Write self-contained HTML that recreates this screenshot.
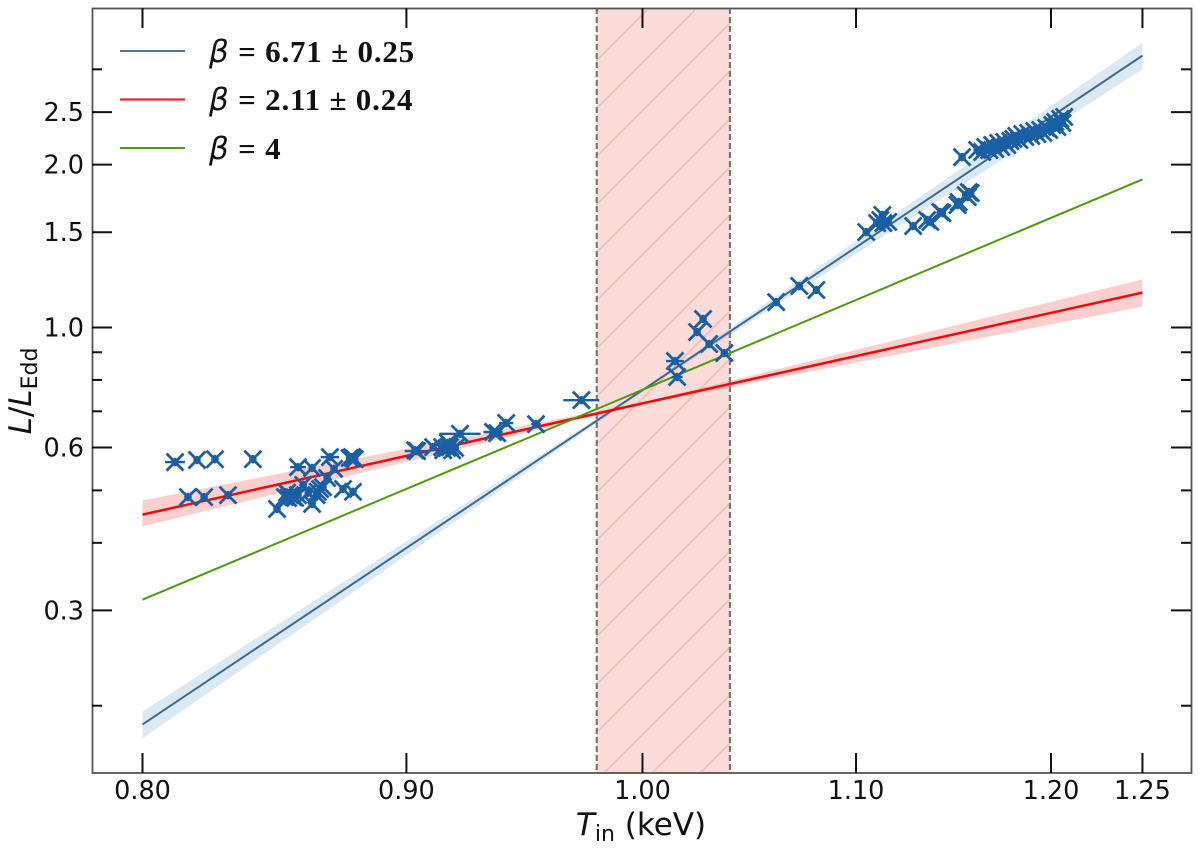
<!DOCTYPE html>
<html>
<head>
<meta charset="utf-8">
<title>L/LEdd vs Tin</title>
<style>
html,body{margin:0;padding:0;background:#fff;width:1200px;height:850px;overflow:hidden}
svg{display:block}
.tick-label{font-family:"DejaVu Sans",sans-serif;font-size:25.5px;fill:#111}
.axis-title{font-family:"DejaVu Sans",sans-serif;font-size:31px;fill:#111}
.legend-text{font-family:"Liberation Serif",serif;font-size:31px;font-weight:bold;fill:#111;letter-spacing:.8px}
.legend-beta{font-family:"DejaVu Sans",sans-serif;font-style:italic;font-weight:normal;font-size:31px}
</style>
</head>
<body>
<svg id="chart" width="1200" height="850" viewBox="0 0 1200 850" xmlns="http://www.w3.org/2000/svg">
  <defs>
    <clipPath id="span-clip"><rect x="596" y="8" width="135" height="765"/></clipPath>
  </defs>
  <rect x="0" y="0" width="1200" height="850" fill="#fff"/>
  <g id="span-layer"></g>
  <g id="band-layer"></g>
  <g id="line-layer"></g>
  <g id="point-layer"></g>
  <rect x="92.5" y="8.5" width="1099" height="764.5" fill="none" stroke="#555" stroke-width="1.8"/>
  <g id="tick-layer"></g>

  <text class="axis-title" x="641" y="835" text-anchor="middle"><tspan font-style="italic">T</tspan><tspan font-size="22" dy="6">in</tspan><tspan dy="-6"> (keV)</tspan></text>
  <text class="axis-title" transform="translate(31,391) rotate(-90)" text-anchor="middle"><tspan font-style="italic">L</tspan>/<tspan font-style="italic">L</tspan><tspan font-size="22" dy="6">Edd</tspan></text>

  <g>
    <line x1="120" y1="51" x2="185" y2="51" stroke="#4a7699" stroke-width="2"/>
    <text class="legend-text" x="209" y="62"><tspan class="legend-beta">β</tspan> = 6.71 ± 0.25</text>
    <line x1="120" y1="99.5" x2="185" y2="99.5" stroke="#f5222d" stroke-width="2.2"/>
    <text class="legend-text" x="209" y="110"><tspan class="legend-beta">β</tspan> = 2.11 ± 0.24</text>
    <line x1="120" y1="148" x2="185" y2="148" stroke="#4f9a0c" stroke-width="2"/>
    <text class="legend-text" x="209" y="159"><tspan class="legend-beta">β</tspan> = 4</text>
  </g>
</svg>
<script>
// ---- chart data ----
const xTickValues = [0.80, 0.90, 1.00, 1.10, 1.20, 1.25];
const xTickLabels = ["0.80", "0.90", "1.00", "1.10", "1.20", "1.25"];
const yMajorValues = [2.5, 2.0, 1.5, 1.0, 0.6, 0.3];
const yMajorLabels = ["2.5", "2.0", "1.5", "1.0", "0.6", "0.3"];
const yMinorValues = [3.0, 0.9, 0.8, 0.7, 0.5, 0.4, 0.2];

const fitTemps = [0.80, 1.00, 1.25];
const blueFit = [0.1847, 0.766, 3.18];
const blueLower = [0.174, 0.762, 3.00];
const blueUpper = [0.195, 0.770, 3.36];
const redFit = [0.451, 0.724, 1.16];
const redLower = [0.429, 0.721, 1.093];
const redUpper = [0.479, 0.727, 1.227];
const greenFit = [0.314, 0.767, 1.878];

const regionTemps = [0.9798, 1.0398];

const pointTemps = [
  0.8117,0.8197,0.8263,0.8404,0.8164,0.8223,0.8311,
  0.8575,0.8629,0.8698,0.8714,0.8687,0.8784,0.8788,0.8795,0.8775,0.8749,0.8788,
  0.8495,0.8533,0.8544,0.8556,0.8525,0.8537,0.8564,0.8595,0.8575,0.8629,0.8651,0.8646,0.8671,0.8660,0.8614,
  0.9043,0.9035,0.9108,0.9145,0.9149,0.9165,0.9177,0.9186,0.9198,0.9169,0.9218,0.9355,0.9372,0.9410,0.9536,0.9731,
  1.0146,1.0156,1.0247,1.0274,1.0302,1.0372,1.0615,1.0725,1.0807,
  1.1050,1.1120,1.1130,1.1135,1.1159,1.1104,1.1284,1.1355,1.1371,1.1422,1.1432,1.1510,1.1516,1.1552,1.1568,1.1578,1.1563,
  1.1533,1.1611,1.1637,1.1653,1.1674,1.1689,1.1705,1.1721,1.1737,1.1752,1.1768,1.1784,1.1800,1.1816,1.1832,1.1847,
  1.1863,1.1879,1.1895,1.1911,1.1927,1.1943,1.1959,1.1975,1.1991,1.2007,1.2023,1.2034,1.2050,1.2061,1.2071
];
const pointLums = [
  0.564,0.569,0.571,0.571,0.486,0.486,0.490,
  0.552,0.550,0.576,0.548,0.527,0.576,0.574,0.571,0.574,0.503,0.497,
  0.462,0.495,0.490,0.486,0.486,0.484,0.484,0.512,0.490,0.472,0.497,0.490,0.507,0.503,0.495,
  0.591,0.593,0.601,0.601,0.593,0.599,0.601,0.593,0.599,0.612,0.636,0.641,0.638,0.666,0.663,0.734,
  0.867,0.810,0.981,1.037,0.932,0.897,1.114,1.193,1.173,
  1.501,1.580,1.614,1.559,1.567,1.559,1.540,1.580,1.567,1.634,1.627,1.684,1.705,1.756,1.779,1.772,1.742,
  2.065,2.128,2.110,2.156,2.128,2.174,2.137,2.193,2.156,2.202,2.174,2.211,2.230,2.259,2.221,2.278,
  2.249,2.288,2.259,2.308,2.278,2.317,2.288,2.337,2.317,2.367,2.398,2.347,2.428,2.387,2.449
];
const pointTempErrs = [
  0.0036,0.0012,0.0012,0.0012,0.0012,0.0012,0.0012,
  0.0030,0.0012,0.0036,0.0012,0.0012,0.0012,0.0012,0.0012,0.0012,0.0012,0.0012,
  0.0012,0.0012,0.0012,0.0012,0.0012,0.0012,0.0012,0.0012,0.0012,0.0012,0.0012,0.0012,0.0012,0.0012,0.0012,
  0.0050,0.0012,0.0012,0.0012,0.0012,0.0012,0.0012,0.0012,0.0012,0.0012,0.0085,0.0040,0.0012,0.0030,0.0020,0.0078,
  0.0040,0.0025,0.0012,0.0012,0.0012,0.0012,0.0012,0.0012,0.0012,
  0.0012,0.0012,0.0012,0.0012,0.0012,0.0012,0.0012,0.0012,0.0012,0.0012,0.0012,0.0012,0.0012,0.0012,0.0012,0.0012,0.0012,
  0.0012,0.0012,0.0012,0.0012,0.0012,0.0012,0.0012,0.0012,0.0012,0.0012,0.0012,0.0012,0.0012,0.0012,0.0012,0.0012,
  0.0012,0.0012,0.0012,0.0012,0.0012,0.0012,0.0012,0.0012,0.0012,0.0012,0.0012,0.0012,0.0012,0.0012,0.0012
];

// ---- axis functions ----
function xScale(t){ return 142.5 + Math.log(t / 0.8) * 2240.6; }
function yScale(l){ return 327.5 - Math.log(l) * 235; }

const SVG_NS = "http://www.w3.org/2000/svg";
function make(tag, parent){
  const el = document.createElementNS(SVG_NS, tag);
  parent.appendChild(el);
  return el;
}
const spanLayer = document.getElementById("span-layer");
const bandLayer = document.getElementById("band-layer");
const lineLayer = document.getElementById("line-layer");
const pointLayer = document.getElementById("point-layer");
const tickLayer = document.getElementById("tick-layer");

// ---- shaded region ----
const xa = xScale(regionTemps[0]), xb = xScale(regionTemps[1]);
const spanRect = make("rect", spanLayer);


spanRect.setAttribute("x", xa);
spanRect.setAttribute("y", 8);
spanRect.setAttribute("width", xb - xa);
spanRect.setAttribute("height", 765);
spanRect.setAttribute("fill", "#fbdcd9");
const hatch = make("g", spanLayer);


hatch.setAttribute("clip-path", "url(#span-clip)");
for (let s = 609; s < 1600; s += 48) {
  const h = make("line", hatch);
  
  
  h.setAttribute("x1", s - 10);
  h.setAttribute("y1", 10);
  h.setAttribute("x2", s - 800);
  h.setAttribute("y2", 800);
  h.setAttribute("stroke", "#f5bfb2");
  h.setAttribute("stroke-width", "1.8");
}
[xa, xb].forEach(function(x){
  const d = make("line", spanLayer);
  
  
  d.setAttribute("x1", x);
  d.setAttribute("y1", 8);
  d.setAttribute("x2", x);
  d.setAttribute("y2", 773);
  d.setAttribute("stroke", "#777");
  d.setAttribute("stroke-width", "2.2");
  d.setAttribute("stroke-dasharray", "6 3");
});

// ---- uncertainty bands ----
function bandPoints(lower, upper){
  const top = fitTemps.map(function(t, i){ return xScale(t) + "," + yScale(upper[i]); });
  const bottom = fitTemps.map(function(t, i){ return xScale(t) + "," + yScale(lower[i]); }).reverse();
  return top.concat(bottom).join(" ");
}
const blueBand = make("polygon", bandLayer);


blueBand.setAttribute("points", bandPoints(blueLower, blueUpper));
blueBand.setAttribute("fill", "#7fb0dc");
blueBand.setAttribute("fill-opacity", "0.28");
const redBand = make("polygon", bandLayer);


redBand.setAttribute("points", bandPoints(redLower, redUpper));
redBand.setAttribute("fill", "#f56a6a");
redBand.setAttribute("fill-opacity", "0.32");

// ---- fit lines ----
function linePoints(values){
  return fitTemps.map(function(t, i){ return xScale(t) + "," + yScale(values[i]); }).join(" ");
}
const blueLine = make("polyline", lineLayer);


blueLine.setAttribute("points", linePoints(blueFit));
blueLine.setAttribute("fill", "none");
blueLine.setAttribute("stroke", "#3c6a8f");
blueLine.setAttribute("stroke-width", "2");
const redLine = make("polyline", lineLayer);


redLine.setAttribute("points", linePoints(redFit));
redLine.setAttribute("fill", "none");
redLine.setAttribute("stroke", "#f00a0a");
redLine.setAttribute("stroke-width", "2.5");
const greenLine = make("polyline", lineLayer);


greenLine.setAttribute("points", linePoints(greenFit));
greenLine.setAttribute("fill", "none");
greenLine.setAttribute("stroke", "#4f9a0c");
greenLine.setAttribute("stroke-width", "2");

// ---- data points ----
const pointColor = "#1a5fa3";
function seg(parent, x1, y1, x2, y2, w){
  const l = make("line", parent);
  
  
  l.setAttribute("x1", x1);
  l.setAttribute("y1", y1);
  l.setAttribute("x2", x2);
  l.setAttribute("y2", y2);
  l.setAttribute("stroke", pointColor);
  l.setAttribute("stroke-width", w);
}
pointTemps.forEach(function(t, i){
  const g = make("g", pointLayer);
  
  
  const cx = xScale(t), cy = yScale(pointLums[i]);
  const xl = xScale(t - pointTempErrs[i]), xr = xScale(t + pointTempErrs[i]);
  const yt = yScale(pointLums[i] * 1.018), yb = yScale(pointLums[i] / 1.018);
  seg(g, xl, cy, xr, cy, 2.4);
  seg(g, cx, yt, cx, yb, 2.4);
  seg(g, cx - 8.5, cy - 8.5, cx + 8.5, cy + 8.5, 2.8);
  seg(g, cx - 8.5, cy + 8.5, cx + 8.5, cy - 8.5, 2.8);
  const c = make("circle", g);
  
  
  c.setAttribute("cx", cx);
  c.setAttribute("cy", cy);
  c.setAttribute("r", 3.8);
  c.setAttribute("fill", pointColor);
});

// ---- ticks ----
function tick(x1, y1, x2, y2){
  const l = make("line", tickLayer);
  
  
  l.setAttribute("x1", x1);
  l.setAttribute("y1", y1);
  l.setAttribute("x2", x2);
  l.setAttribute("y2", y2);
  l.setAttribute("stroke", "#111");
  l.setAttribute("stroke-width", "2");
}
xTickValues.forEach(function(v, i){
  const x = xScale(v);
  tick(x, 773, x, 753);
  tick(x, 8, x, 28);
  const txt = make("text", tickLayer);
  
  
  txt.setAttribute("class", "tick-label");
  txt.setAttribute("x", x);
  txt.setAttribute("y", 799);
  txt.setAttribute("text-anchor", "middle");
  txt.textContent = xTickLabels[i];
});
yMajorValues.forEach(function(v, i){
  const y = yScale(v);
  tick(92, y, 112, y);
  tick(1191, y, 1171, y);
  const txt = make("text", tickLayer);
  
  
  txt.setAttribute("class", "tick-label");
  txt.setAttribute("x", 84);
  txt.setAttribute("y", y + 9);
  txt.setAttribute("text-anchor", "end");
  txt.textContent = yMajorLabels[i];
});
yMinorValues.forEach(function(v){
  const y = yScale(v);
  tick(92, y, 102, y);
  tick(1191, y, 1181, y);
});
</script>
</body>
</html>
